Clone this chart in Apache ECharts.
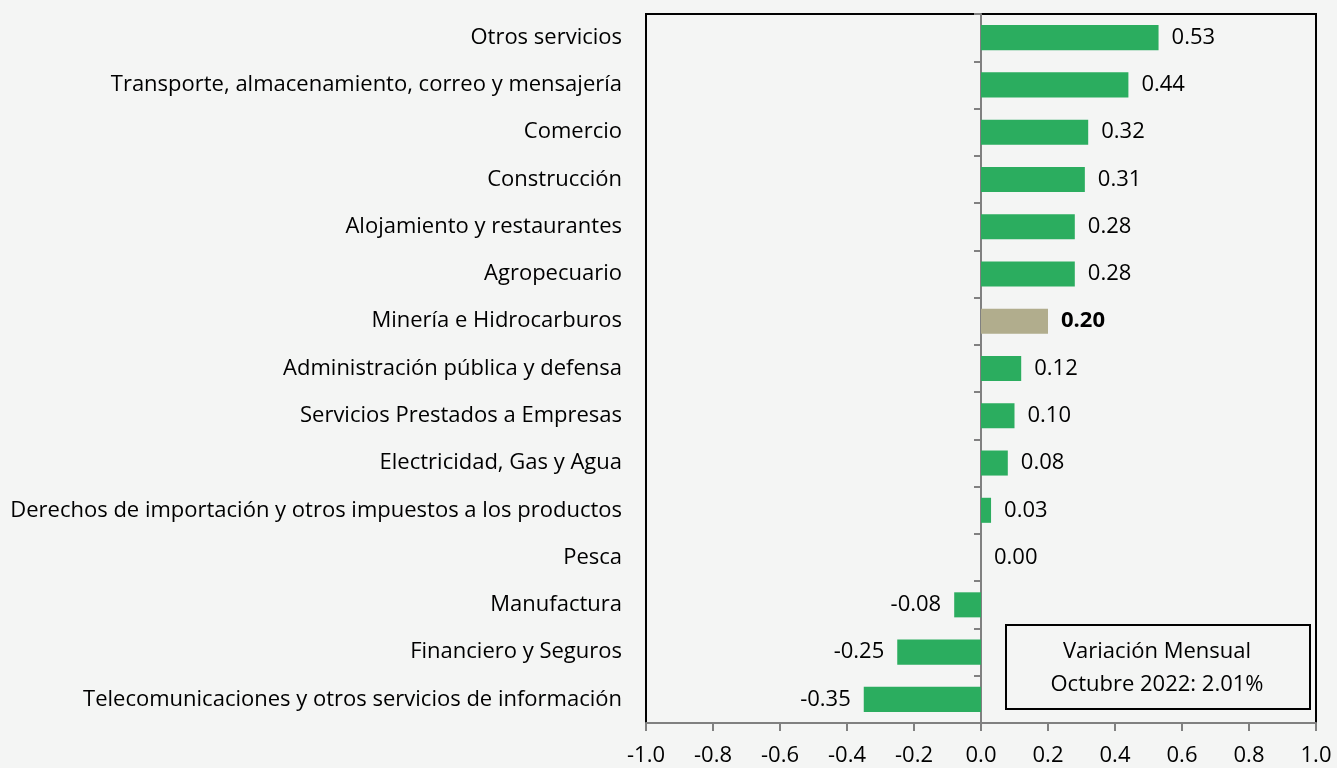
<!DOCTYPE html>
<html>
<head>
    <meta charset="utf-8">
    <title>ECharts</title>
    <script src="https://cdn.jsdelivr.net/npm/echarts@6/dist/echarts.min.js"></script>
    <style>
        html, body { margin: 0; padding: 0; background: #f4f5f4; }
    </style>
</head>
<body>
    <div id="main" style="width: 1337px;height:768px;"></div>
    <script type="text/javascript">
        // sectores, de arriba hacia abajo
        var categories = ['Otros servicios', 'Transporte, almacenamiento, correo y mensajería', 'Comercio',
            'Construcción', 'Alojamiento y restaurantes', 'Agropecuario', 'Minería e Hidrocarburos',
            'Administración pública y defensa', 'Servicios Prestados a Empresas', 'Electricidad, Gas y Agua',
            'Derechos de importación y otros impuestos a los productos', 'Pesca', 'Manufactura',
            'Financiero y Seguros', 'Telecomunicaciones y otros servicios de información']
        var values = [0.53, 0.44, 0.32, 0.31, 0.28, 0.28, 0.20, 0.12, 0.10, 0.08, 0.03, 0.00, -0.08, -0.25, -0.35]
        var highlight = 'Minería e Hidrocarburos'
        var boxLines = ['Variación Mensual', 'Octubre 2022: 2.01%']

        var font = 'Open Sans'
        var fs = 22
        var seriesData = []
        for (var i = 0; i < values.length; i++) {
            var isHi = categories[i] == highlight
            seriesData.push({
                value: values[i],
                itemStyle: { color: isHi ? '#b1ad8d' : '#2bad5f' },
                label: {
                    position: values[i] < 0 ? 'left' : 'right',
                    fontWeight: isHi ? 'bold' : 'normal'
                }
            })
        }

        var myChart = echarts.init(document.getElementById('main'))
        var option = {
            backgroundColor: '#f4f5f4',
            animation: false,
            textStyle: { fontFamily: font },
            grid: {
                left: 646, right: 21, top: 14, bottom: 45,
                show: true, borderColor: '#000', borderWidth: 2,
                backgroundColor: 'transparent'
            },
            xAxis: {
                type: 'value',
                min: -1, max: 1, interval: 0.2,
                splitLine: { show: false },
                axisLine: { show: true, onZero: false, lineStyle: { color: '#808080', width: 2 } },
                axisTick: { show: true, length: 8, lineStyle: { color: '#808080', width: 2 } },
                axisLabel: {
                    color: '#000', fontSize: fs, margin: 22, fontFamily: font,
                    formatter: function (v) { return v.toFixed(1) }
                }
            },
            yAxis: {
                type: 'category',
                inverse: true,
                data: categories,
                axisLine: { show: true, onZero: true, lineStyle: { color: '#808080', width: 2 } },
                axisTick: { show: true, length: 7, lineStyle: { color: '#808080', width: 2 } },
                axisLabel: { show: false }
            },
            series: [
                {
                    type: 'bar',
                    barWidth: '53%',
                    data: seriesData,
                    label: {
                        show: true, color: '#000', fontSize: fs, distance: 13, fontFamily: font,
                        formatter: function (p) { return p.value.toFixed(2) }
                    }
                }
            ],
            graphic: [
                {
                    type: 'rect', left: 1005, top: 624,
                    shape: { width: 304, height: 84 },
                    style: { fill: 'transparent', stroke: '#000', lineWidth: 2 }
                },
                {
                    type: 'text', x: 1157, y: 652,
                    style: { text: boxLines[0], fill: '#000', font: fs + 'px ' + font, align: 'center', verticalAlign: 'middle' }
                },
                {
                    type: 'text', x: 1157, y: 685,
                    style: { text: boxLines[1], fill: '#000', font: fs + 'px ' + font, align: 'center', verticalAlign: 'middle' }
                }
            ]
        }
        // etiquetas de categorias a la izquierda del marco
        for (var j = 0; j < categories.length; j++) {
            option.graphic.push({
                type: 'text', x: 622, y: 14 + (j + 0.5) * 709 / categories.length,
                style: { text: categories[j], fill: '#000', font: fs + 'px ' + font, align: 'right', verticalAlign: 'middle' }
            })
        }
        myChart.setOption(option);
    </script>
</body>
</html>
